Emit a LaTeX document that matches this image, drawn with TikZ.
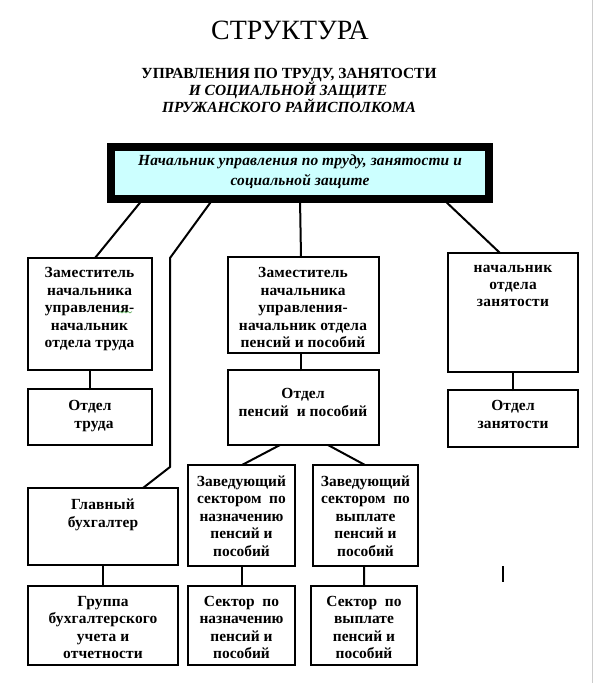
\documentclass[tikz,border=0pt]{standalone}
\usepackage{fontspec}
\setmainfont{Liberation Serif}
\usetikzlibrary{calc}
\definecolor{topfill}{HTML}{CCFFFF}
\definecolor{wavegreen}{HTML}{3C9A3C}
\begin{document}
\begin{tikzpicture}[x=1bp,y=-1bp,
  box/.style={draw=black,line width=2.2bp,inner sep=0pt,outer sep=0pt,anchor=north west},
  topbox/.style={draw=black,line width=8bp,fill=topfill,inner sep=0pt,outer sep=0pt,anchor=north west},
  conn/.style={line width=2bp,line cap=round},
  txt/.style={inner sep=0pt,anchor=north,align=center,font=\fontsize{15.5}{17.5}\selectfont\bfseries\addfontfeature{LetterSpace=1},execute at begin node={\strut}},
  txtn/.style={txt,font=\fontsize{15.5}{17.5}\selectfont\bfseries},
  ttl/.style={inner sep=0pt,anchor=base,font=\fontsize{15.5}{17}\selectfont\bfseries}
]
\useasboundingbox (0,0) rectangle (595,683);
\draw[gray!40,line width=1bp] (592,0) -- (592,683);

% title
\node[inner sep=0pt,anchor=base,font=\fontsize{28}{30}\selectfont] (title) at (290,40) {СТРУКТУРА};
\node[ttl] (sub1) at (289,78.5) {УПРАВЛЕНИЯ ПО ТРУДУ, ЗАНЯТОСТИ};
\node[ttl,font=\fontsize{15.5}{17}\selectfont\bfseries\itshape] (sub2) at (288,95.5) {И СОЦИАЛЬНОЙ ЗАЩИТЕ};
\node[ttl,font=\fontsize{15.5}{17}\selectfont\bfseries\itshape] (sub3) at (289,112.5) {ПРУЖАНСКОГО РАЙИСПОЛКОМА};

% boxes
\node[topbox,minimum width=378bp,minimum height=52bp] (top) at (111,147) {};
\node[txt,font=\fontsize{15.5}{20}\selectfont\bfseries\itshape\addfontfeature{LetterSpace=1}] (ttop) at (300,155) {Начальник управления по труду, занятости и\\социальной защите};

\node[box,minimum width=124bp,minimum height=112bp] (zam1) at (28,258) {};
\node[txt] (tzam1) at (89.5,267.5) {Заместитель\\начальника\\управления-\\начальник\\отдела труда};

\node[box,minimum width=124bp,minimum height=56bp] (otdT) at (28,389) {};
\node[txt] (totdT) at (90,400.5) {Отдел\\\ \ труда};

\node[box,minimum width=150bp,minimum height=77bp] (buh) at (28,488) {};
\node[txt] (tbuh) at (103,499) {Главный\\бухгалтер};

\node[box,minimum width=150bp,minimum height=79bp] (grp) at (28,586) {};
\node[txt] (tgrp) at (103,596) {Группа\\бухгалтерского\\учета и\\отчетности};

\node[box,minimum width=151bp,minimum height=96bp] (zam2) at (228,257) {};
\node[txt] (tzam2) at (303,267.5) {Заместитель\\начальника\\управления-\\начальник отдела\\пенсий и пособий};

\node[box,minimum width=151bp,minimum height=75bp] (otdP) at (228,370) {};
\node[txt] (totdP) at (303,388.5) {Отдел\\пенсий\ \ и пособий};

\node[box,minimum width=107bp,minimum height=101bp] (zavN) at (188,465) {};
\node[txtn] (tzavN) at (241.5,475.5) {Заведующий\\сектором\ \ по\\назначению\\пенсий и\\пособий};

\node[box,minimum width=107bp,minimum height=79bp] (sekN) at (188,586) {};
\node[txtn] (tsekN) at (241.5,596) {Сектор\ \ по\\назначению\\пенсий и\\пособий};

\node[box,minimum width=105bp,minimum height=101bp] (zavV) at (313,465) {};
\node[txtn] (tzavV) at (365.5,475.5) {Заведующий\\сектором\ \ по\\выплате\\пенсий и\\пособий};

\node[box,minimum width=106bp,minimum height=79bp] (sekV) at (311,586) {};
\node[txtn] (tsekV) at (364,596) {Сектор\ \ по\\выплате\\пенсий и\\пособий};

\node[box,minimum width=130bp,minimum height=119bp] (nZ) at (448,253) {};
\node[txt,font=\fontsize{15.5}{17}\selectfont\bfseries\addfontfeature{LetterSpace=2}] (tnZ) at (513,265) {начальник\\отдела\\занятости};

\node[box,minimum width=130bp,minimum height=57bp] (oZ) at (448,390) {};
\node[txt] (toZ) at (513,400.5) {Отдел\\занятости};

% connectors
\draw[conn] ([xshift=32bp]top.south west) -- ([xshift=67bp]zam1.north west);
\draw[conn] ([xshift=102bp]top.south west) -- ([xshift=142bp]zam1.north west |- zam1.north) coordinate (k1)
  -- (k1 |- 0,467) coordinate (k2) -- ([xshift=115bp]buh.north west);
\draw[conn] ([xshift=189bp]top.south west) -- ([xshift=73bp]zam2.north west);
\draw[conn] ([xshift=332bp]top.south west) -- ([xshift=52bp]nZ.north west);
\draw[conn] (zam1.south) -- (otdT.north);
\draw[conn] ([xshift=73bp]zam2.south west) -- ([xshift=73bp]otdP.north west);
\draw[conn] ([xshift=52bp]otdP.south west) -- ([xshift=54bp]zavN.north west);
\draw[conn] ([xshift=100bp]otdP.south west) -- ([xshift=52bp]zavV.north west);
\draw[conn] (zavN.south) -- (sekN.north);
\draw[conn] ([xshift=51bp]zavV.south west) -- ([xshift=53bp]sekV.north west);
\draw[conn] (buh.south) -- (grp.north);
\draw[conn] (nZ.south) -- (oZ.north);

% cursor mark
\coordinate (cur1) at (503,566);
\coordinate (cur2) at (503,582);
\draw[line width=1.8bp] (cur1) -- (cur2);
% spelling mark
\draw[wavegreen,line width=0.5bp] (118,313) -- (120,311.5) -- (122,313) -- (124,311.5) -- (126,313) -- (128,311.5) -- (130,313) -- (132,311.5);
\end{tikzpicture}
\end{document}
